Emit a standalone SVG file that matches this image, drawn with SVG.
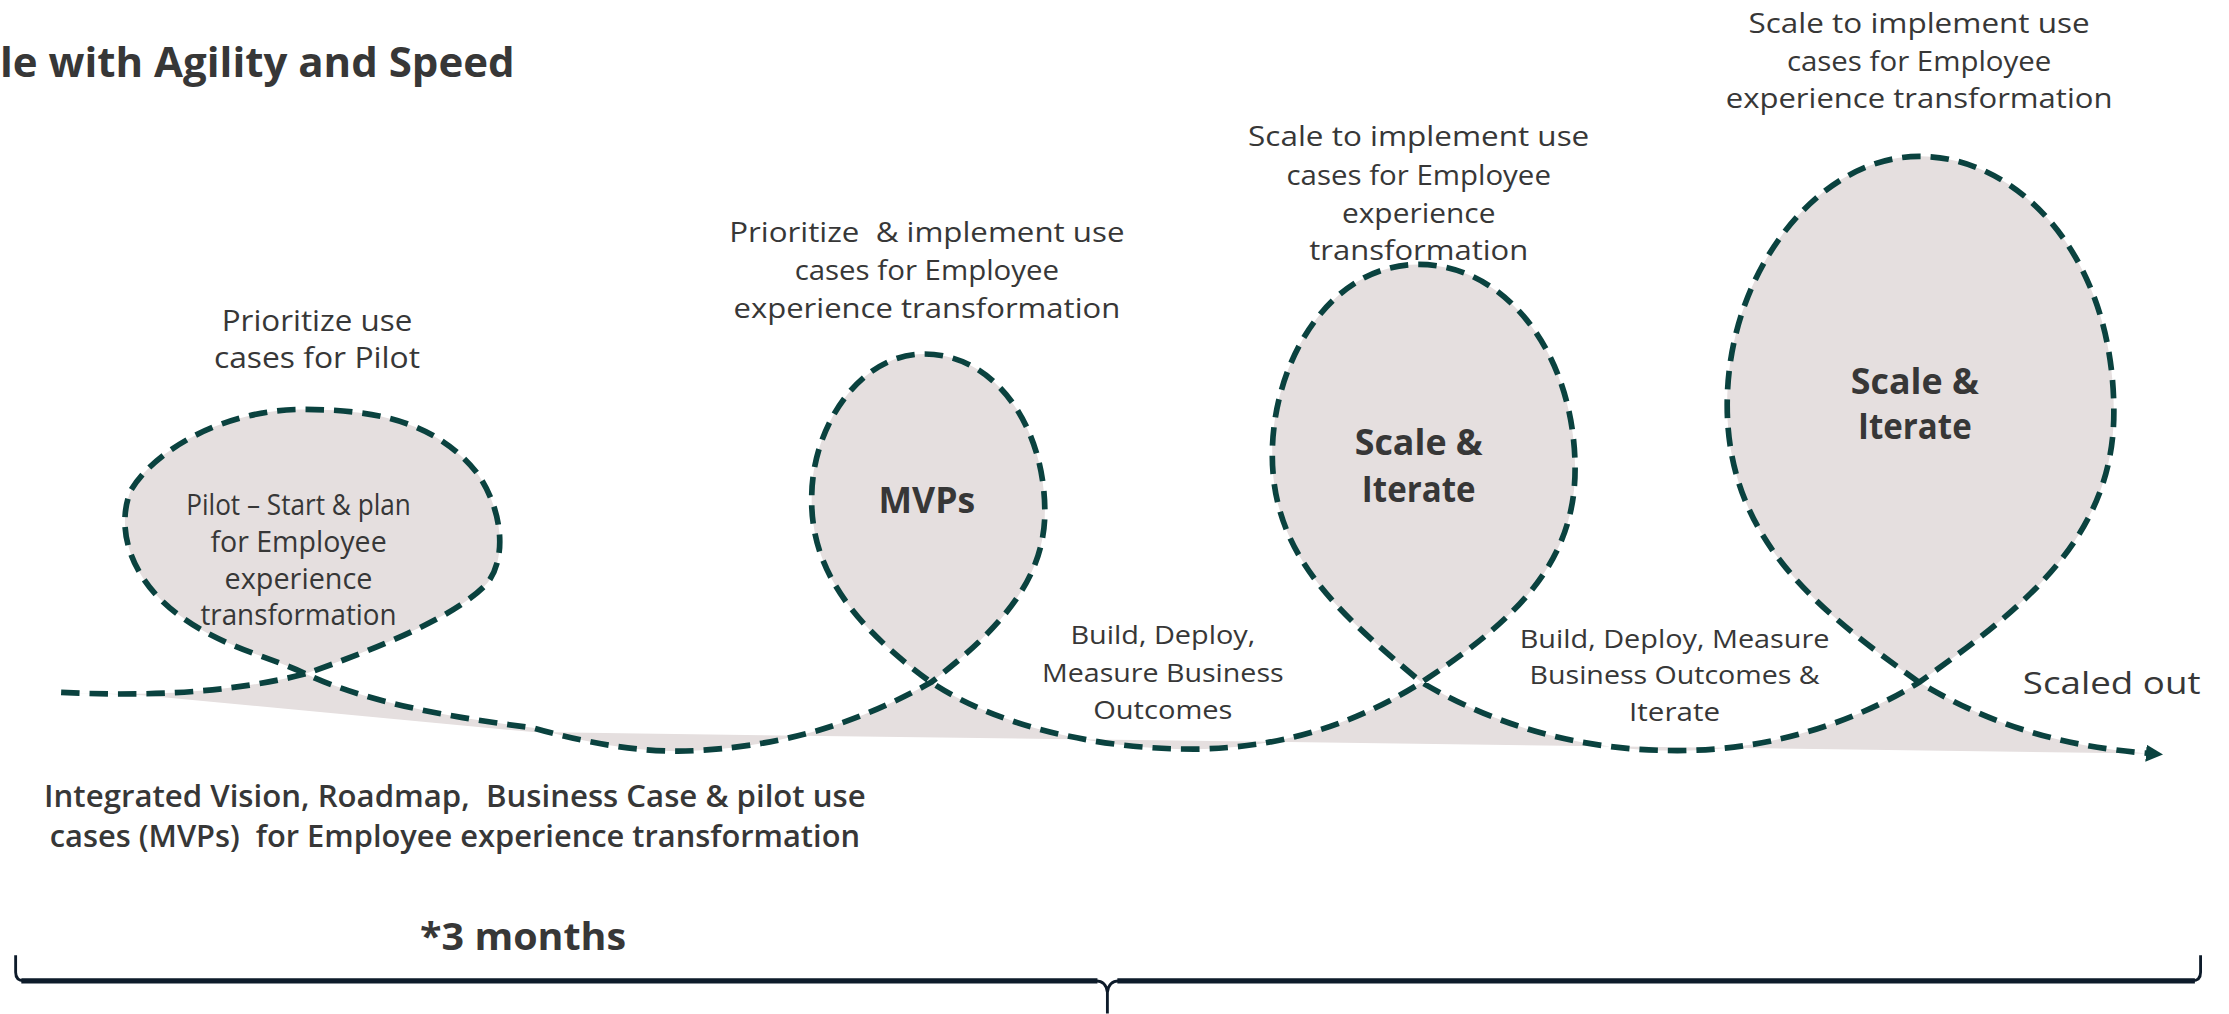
<svg xmlns="http://www.w3.org/2000/svg" width="2229" height="1014" viewBox="0 0 2229 1014">
<defs>
<style>
.t{font-family:"Open Sans","Noto Sans","Liberation Sans",sans-serif;fill:#373737;text-anchor:middle;white-space:pre}
.r{font-size:19.5px;font-weight:500}
.c{font-size:20px;font-weight:500}
.b{font-weight:700}
.dash{fill:none;stroke:#0a423f;stroke-width:4;stroke-dasharray:13 7}
</style>
<marker id="arr" viewBox="0 0 10 10" refX="2" refY="5" markerWidth="3" markerHeight="3" orient="auto" markerUnits="strokeWidth">
<path d="M0,0 L10,5 L0,10 z" fill="#0a423f"/>
</marker>
</defs>
<rect width="2229" height="1014" fill="#ffffff"/>
<g transform="scale(1.42156)">
<text id="title" class="t b" x="0" y="54" style="font-size:29px;text-anchor:start" textLength="362" lengthAdjust="spacingAndGlyphs">le with Agility and Speed</text>

<g id="fill">
<path fill="#e5dfdf" d="M43,487 C100,490 160,488 215,474 C260,458 320,435 343,410 C358,390 352,355 335,332 C305,295 260,288 213,288 C160,288 110,315 92,345 C80,375 95,410 125,432 C155,455 190,462 215,474 C260,495 320,505 375,512 C420,525 460,530 490,528 C560,524 610,505 655,480 C700,445 735,410 735,360 C735,300 700,249 650,249 C605,249 571,300 571,350 C570,400 600,440 655,480 C700,510 770,527 840,527 C910,526 960,505 1000,480 C1060,440 1108,400 1108,330 C1108,250 1060,186 998,186 C935,186 895,255 895,320 C895,390 940,430 1000,480 C1060,515 1120,528 1180,528 C1250,528 1310,505 1350,480 C1420,430 1487,380 1487,290 C1487,180 1420,110 1350,110 C1280,110 1215,190 1215,285 C1215,380 1280,430 1350,480 C1400,510 1450,525 1510,530 L375,515 L100,489 Z"/>
</g>

<g id="connectors">
<path class="dash" marker-end="url(#arr)" d="M43,487 C100,490 160,488 215,474 C260,458 320,435 343,410 C358,390 352,355 335,332 C305,295 260,288 213,288 C160,288 110,315 92,345 C80,375 95,410 125,432 C155,455 190,462 215,474 C260,495 320,505 375,512 C420,525 460,530 490,528 C560,524 610,505 655,480 C700,445 735,410 735,360 C735,300 700,249 650,249 C605,249 571,300 571,350 C570,400 600,440 655,480 C700,510 770,527 840,527 C910,526 960,505 1000,480 C1060,440 1108,400 1108,330 C1108,250 1060,186 998,186 C935,186 895,255 895,320 C895,390 940,430 1000,480 C1060,515 1120,528 1180,528 C1250,528 1310,505 1350,480 C1420,430 1487,380 1487,290 C1487,180 1420,110 1350,110 C1280,110 1215,190 1215,285 C1215,380 1280,430 1350,480 C1400,510 1450,525 1512,530"/>
<path id="brace" fill="none" stroke="#0d1b2a" stroke-width="2" d="M11,672 L11,684 Q11,690 17,690 L771,690 Q778,690 779,698 L779,713 M779,698 Q780,690 787,690 L1542,690 Q1548,690 1548,684 L1548,672"/>
<path fill="none" stroke="#0d1b2a" stroke-width="3.6" d="M15,690 L772,690 M786,690 L1544,690"/>
</g>

<g id="pilot-above">
<text class="t c" x="223" y="233" textLength="134" lengthAdjust="spacingAndGlyphs">Prioritize use</text>
<text class="t c" x="223" y="259" textLength="145" lengthAdjust="spacingAndGlyphs">cases for Pilot</text>
</g>
<g id="pilot">
<text class="t c" x="210" y="362" textLength="158" lengthAdjust="spacingAndGlyphs">Pilot – Start &amp; plan</text>
<text class="t c" x="210" y="388" textLength="124" lengthAdjust="spacingAndGlyphs">for Employee</text>
<text class="t c" x="210" y="414" textLength="104" lengthAdjust="spacingAndGlyphs">experience</text>
<text class="t c" x="210" y="440" textLength="138" lengthAdjust="spacingAndGlyphs">transformation</text>
</g>
<g id="vision">
<text class="t" x="320" y="568" style="font-size:21px;font-weight:600" textLength="578" lengthAdjust="spacingAndGlyphs">Integrated Vision, Roadmap,  Business Case &amp; pilot use</text>
<text class="t" x="320" y="596" style="font-size:21px;font-weight:600" textLength="570" lengthAdjust="spacingAndGlyphs">cases (MVPs)  for Employee experience transformation</text>
</g>
<g id="months">
<text class="t b" x="368" y="668" style="font-size:27px" textLength="145" lengthAdjust="spacingAndGlyphs">*3 months</text>
</g>
<g id="mvp-above">
<text class="t r" x="652" y="170" textLength="278" lengthAdjust="spacingAndGlyphs">Prioritize  &amp; implement use</text>
<text class="t r" x="652" y="197" textLength="186" lengthAdjust="spacingAndGlyphs">cases for Employee</text>
<text class="t r" x="652" y="224" textLength="272" lengthAdjust="spacingAndGlyphs">experience transformation</text>
</g>
<g id="mvp">
<text class="t b" x="652" y="361" style="font-size:25px" textLength="68" lengthAdjust="spacingAndGlyphs">MVPs</text>
</g>
<g id="build1">
<text class="t r" x="818" y="453" style="font-size:18.5px" textLength="130" lengthAdjust="spacingAndGlyphs">Build, Deploy,</text>
<text class="t r" x="818" y="480" style="font-size:18.5px" textLength="170" lengthAdjust="spacingAndGlyphs">Measure Business</text>
<text class="t r" x="818" y="506" style="font-size:18.5px" textLength="98" lengthAdjust="spacingAndGlyphs">Outcomes</text>
</g>
<g id="scale1-above">
<text class="t r" x="998" y="103" textLength="240" lengthAdjust="spacingAndGlyphs">Scale to implement use</text>
<text class="t r" x="998" y="130" textLength="186" lengthAdjust="spacingAndGlyphs">cases for Employee</text>
<text class="t r" x="998" y="157" textLength="108" lengthAdjust="spacingAndGlyphs">experience</text>
<text class="t r" x="998" y="183" textLength="154" lengthAdjust="spacingAndGlyphs">transformation</text>
</g>
<g id="scale1">
<text class="t b" x="998" y="320" style="font-size:25px" textLength="90" lengthAdjust="spacingAndGlyphs">Scale &amp;</text>
<text class="t b" x="998" y="353" style="font-size:25px" textLength="80" lengthAdjust="spacingAndGlyphs">Iterate</text>
</g>
<g id="build2">
<text class="t r" x="1178" y="456" style="font-size:18.5px" textLength="218" lengthAdjust="spacingAndGlyphs">Build, Deploy, Measure</text>
<text class="t r" x="1178" y="481" style="font-size:18.5px" textLength="204" lengthAdjust="spacingAndGlyphs">Business Outcomes &amp;</text>
<text class="t r" x="1178" y="507" style="font-size:18.5px" textLength="64" lengthAdjust="spacingAndGlyphs">Iterate</text>
</g>
<g id="scale2-above">
<text class="t r" x="1350" y="23" textLength="240" lengthAdjust="spacingAndGlyphs">Scale to implement use</text>
<text class="t r" x="1350" y="50" textLength="186" lengthAdjust="spacingAndGlyphs">cases for Employee</text>
<text class="t r" x="1350" y="76" textLength="272" lengthAdjust="spacingAndGlyphs">experience transformation</text>
</g>
<g id="scale2">
<text class="t b" x="1347" y="277" style="font-size:25px" textLength="90" lengthAdjust="spacingAndGlyphs">Scale &amp;</text>
<text class="t b" x="1347" y="309" style="font-size:25px" textLength="80" lengthAdjust="spacingAndGlyphs">Iterate</text>
</g>
<g id="scaled-out">
<text class="t" x="1423" y="488" style="font-size:22px;font-weight:500;text-anchor:start" textLength="125" lengthAdjust="spacingAndGlyphs">Scaled out</text>
</g>
</g>
</svg>
